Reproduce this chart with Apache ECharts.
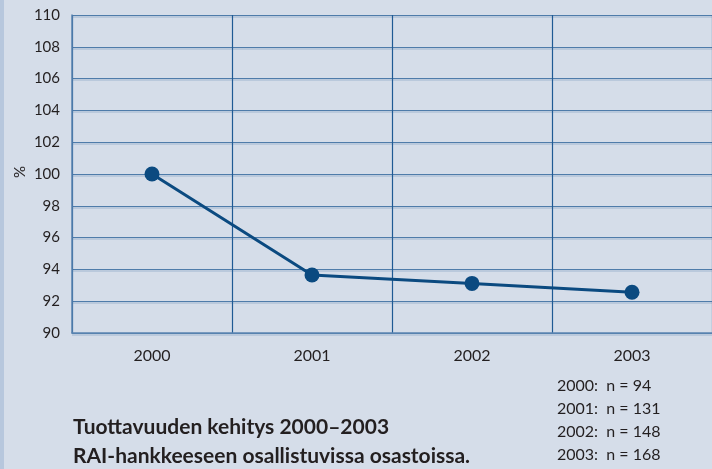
<!DOCTYPE html>
<html>
<head>
<meta charset="utf-8">
<script src="https://cdn.jsdelivr.net/npm/echarts@6/dist/echarts.min.js"></script>
<style>
  html, body { margin: 0; padding: 0; background: #d5dde9; }
  #main { width: 712px; height: 469px; }
</style>
</head>
<body>
<div id="main"></div>
<script>
// data
var years = ['2000', '2001', '2002', '2003'];
var values = [100, 93.65, 93.12, 92.56];
var nNotes = ['2000:  n = 94', '2001:  n = 131', '2002:  n = 148', '2003:  n = 168'];
var titleLines = ['Tuottavuuden kehitys 2000\u20132003', 'RAI-hankkeeseen osallistuvissa osastoissa.'];

var font = 'Lato, "Open Sans", sans-serif';
var chart = echarts.init(document.getElementById('main'));

chart.setOption({
  backgroundColor: '#d5dde9',
  animation: false,
  grid: { left: 72, top: 15, right: -4, bottom: 136 },
  graphic: [
    // light strip on the left edge
    { type: 'rect', left: 0, top: 0, shape: { width: 4, height: 469 }, style: { fill: '#b7c7dd' } },
    {
      type: 'text', left: 73, top: 413,
      style: { text: titleLines.join('\n'), font: 'bold 21px ' + font, fill: '#231f20', lineHeight: 29 }
    },
    {
      type: 'text', left: 557, top: 374,
      style: { text: nNotes.join('\n'), font: '16px ' + font, fill: '#231f20', lineHeight: 23 }
    },
    {
      type: 'text', x: 20, y: 172, rotation: Math.PI / 2,
      style: { text: '%', font: '15px ' + font, fill: '#231f20', align: 'center', verticalAlign: 'middle' }
    }
  ],
  xAxis: {
    type: 'category',
    data: years,
    boundaryGap: true,
    axisLine: { show: true, lineStyle: { color: '#5b84b1', width: 1.5 } },
    axisTick: { show: false },
    axisLabel: { color: '#231f20', fontSize: 16, fontFamily: font, margin: 15 },
    splitLine: { show: true, lineStyle: { color: '#1f5a94', width: 1.2 } }
  },
  yAxis: {
    type: 'value',
    min: 90, max: 110, interval: 2,
    axisLine: { show: true, lineStyle: { color: '#5b84b1', width: 1.5 } },
    axisTick: { show: false },
    axisLabel: { color: '#231f20', fontSize: 15, fontFamily: font, margin: 12 },
    splitLine: {
      show: true,
      lineStyle: { color: '#4f7caa', width: 1.2, shadowColor: '#9fb5cf', shadowOffsetY: 1.5, shadowBlur: 0 }
    }
  },
  series: [{
    type: 'line',
    data: values,
    symbol: 'circle',
    symbolSize: 15,
    lineStyle: { color: '#0b4a80', width: 3 },
    itemStyle: { color: '#0b4a80' }
  }]
});
</script>
</body>
</html>
